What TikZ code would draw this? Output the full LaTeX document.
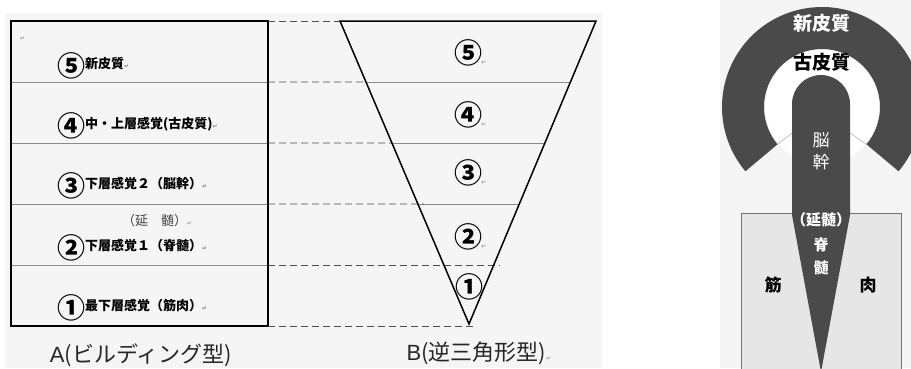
\documentclass[tikz,border=0pt]{standalone}
\usepackage{fontspec}
\newfontfamily\jp{Noto Sans CJK JP}
\newfontfamily\lat{Liberation Sans}
\newfontfamily\sym{DejaVu Sans}
\usetikzlibrary{calc}
\definecolor{ink}{HTML}{4A4A4A}
\definecolor{panel}{HTML}{F5F5F5}
\definecolor{muscle}{HTML}{E6E6E6}
\newcommand\parmark{{\sym\fontsize{6}{6}\selectfont\textcolor{gray}{↵}}}
\newcommand\cnum[1]{\raisebox{-8.5pt}{\fontsize{28}{28}\selectfont #1}}
\tikzset{
  rowtext/.style={anchor=base west, inner sep=0pt, text=black,
    font=\jp\bfseries\fontsize{13}{13}\selectfont},
  tritext/.style={anchor=center, inner sep=0pt, text=black,
    font=\jp\bfseries\fontsize{28}{28}\selectfont},
  markafter/.style={anchor=south west, inner sep=0pt, xshift=-1pt, yshift=2pt},
  caption/.style={anchor=base, inner sep=0pt, text=black!85,
    font=\jp\fontsize{22}{22}\selectfont},
  guide/.style={draw=black!70, line width=0.8pt, dash pattern=on 7pt off 4pt},
  layer/.style={draw=black!45, line width=0.7pt},
  brainlabel/.style={inner sep=0pt, text=white, font=\jp\bfseries\fontsize{#1}{#1}\selectfont},
}
\begin{document}
\begin{tikzpicture}[x=1pt,y=1pt]
\useasboundingbox (0,0) rectangle (911,-368);
\clip (0,0) rectangle (911,-368);
\fill[white] (0,0) rectangle (911,-368);
% light panels behind the two halves
\fill[panel] (5,-13) rectangle (602,-368);
\fill[panel] (720,0) rectangle (911,-368);

% ---------- A: building model ----------
\coordinate (ra) at (11,-21);
\coordinate (rb) at (268,-326);
\foreach \yy in {82,143,204,265}
  \draw[layer] (11,-\yy) -- (268,-\yy);
\draw[line width=1.6pt] (ra) rectangle (rb);
\node[anchor=base west, inner sep=0pt] (m0) at (20,-40) {\parmark};
\node[rowtext] (t5) at (57,-68) {\cnum{⑤}新皮質\parmark};
\node[rowtext] (t4) at (57,-128) {\cnum{④}中・上層感覚(古皮質)\parmark};
\node[rowtext] (t3) at (57,-188) {\cnum{③}下層感覚２（脳幹）\parmark};
\node[rowtext, font=\jp\fontsize{13}{13}\selectfont, text=black!75] (t2a) at (122,-225) {（延　髄）\parmark};
\node[rowtext] (t2) at (57,-250) {\cnum{②}下層感覚１（脊髄）\parmark};
\node[rowtext] (t1) at (57,-310) {\cnum{①}最下層感覚（筋肉）\parmark};
\node[caption] (capA) at (141,-362) {{\lat\fontsize{22}{22}\selectfont A}(ビルディング型)};

% ---------- B: inverted triangle ----------
\coordinate (tl) at (340,-21);
\coordinate (tr) at (596,-21);
\coordinate (ap) at (469,-324);
\coordinate (l1) at ($(tl)!0.2013!(ap)$);
\coordinate (r1) at ($(tr)!0.2013!(ap)$);
\coordinate (l2) at ($(tl)!0.4026!(ap)$);
\coordinate (r2) at ($(tr)!0.4026!(ap)$);
\coordinate (l3) at ($(tl)!0.604!(ap)$);
\coordinate (r3) at ($(tr)!0.604!(ap)$);
\coordinate (e4) at (500,-265);
\coordinate (e5) at (473,-326);
\draw[layer] (l1) -- (r1);
\draw[layer] (l2) -- (r2);
\draw[layer] (l3) -- (r3);
% dashed guides from the building floors to the triangle
\draw[guide] (268,-21) -- (tl);
\draw[guide] (268,-82) -- (l1);
\draw[guide] (268,-143) -- (l2);
\draw[guide] (268,-204) -- ($(l3)+(6,0)$);
\draw[guide] (268,-265) -- (e4);
\draw[guide] (268,-326) -- (e5);
\draw[line width=1.5pt, line join=miter] (tl) -- (tr) -- (ap) -- cycle;
\node[tritext] (n5) at (468,-53) {⑤};
\node[tritext] (n4) at (468,-115) {④};
\node[tritext] (n3) at (468,-173) {③};
\node[tritext] (n2) at (468,-237) {②};
\node[tritext] (n1) at (469,-287) {①};
\node[markafter] (k5) at (n5.south east) {\parmark};
\node[markafter] (k4) at (n4.south east) {\parmark};
\node[markafter] (k3) at (n3.south east) {\parmark};
\node[markafter] (k2) at (n2.south east) {\parmark};
\node[caption] (capB) at (479,-360) {{\lat\fontsize{22}{22}\selectfont B}(逆三角形型)\parmark};

% ---------- brain and muscle ----------
\coordinate (c) at (822,-107);
\draw[fill=muscle, draw=black!55, line width=0.8pt] (741,-213) rectangle (901,-380);
\fill[ink] ([shift={(-40:100pt)}]c) arc[start angle=-40, end angle=220, radius=100pt]
  -- ([shift={(220:58pt)}]c) arc[start angle=220, end angle=-40, radius=58pt] -- cycle;
\fill[white] (c) circle[radius=57pt];
\draw[black!30, line width=0.6pt] ([shift={(220:58pt)}]c) -- (792,-133);
\draw[black!30, line width=0.6pt] ([shift={(-40:58pt)}]c) -- (850,-133);
\fill[ink] (792,-215) -- (792,-104) arc[start angle=180, end angle=0, radius=29pt]
  -- (850,-215) -- (821,-372) -- cycle;
\node[brainlabel=19] (neo) at (822,-23) {新皮質};
\node[brainlabel=19, text=black] (paleo) at (822,-62) {古皮質};
\node[brainlabel=17, font=\jp\fontsize{17}{17}\selectfont] (bs1) at (821,-140) {脳};
\node[brainlabel=17, font=\jp\fontsize{17}{17}\selectfont] (bs2) at (821,-162) {幹};
\node[brainlabel=15] (med) at (821,-220) {（延髄）};
\node[brainlabel=15] (sc1) at (821,-245) {脊};
\node[brainlabel=15] (sc2) at (821,-268) {髄};
\node[brainlabel=17, text=black] (mu1) at (773,-285) {筋};
\node[brainlabel=17, text=black] (mu2) at (868,-285) {肉};
\end{tikzpicture}
\end{document}
